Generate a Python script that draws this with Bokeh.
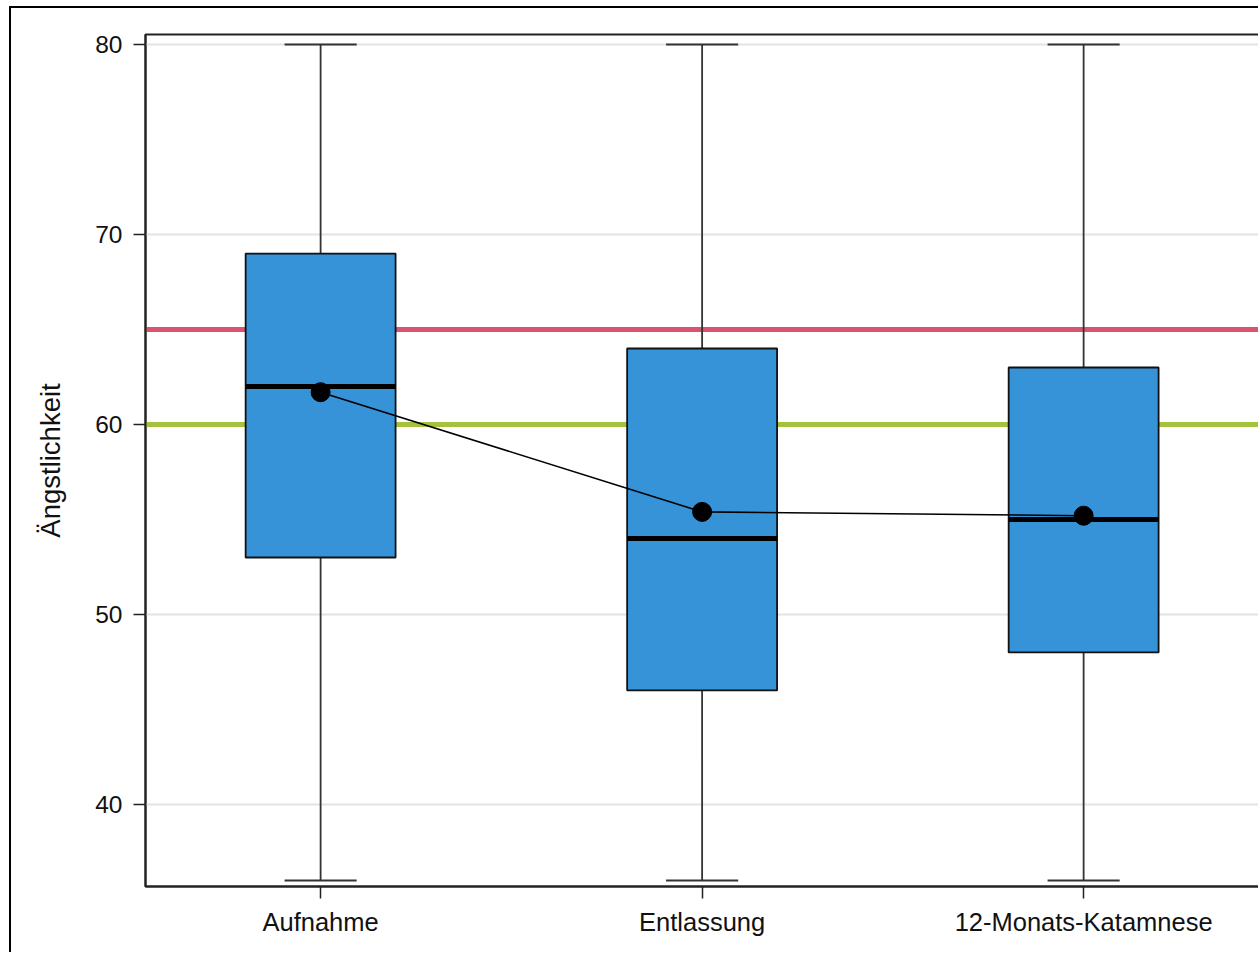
from bokeh.plotting import figure
from bokeh.models import Range1d, FixedTicker, Span, ColumnDataSource
from bokeh.embed import file_html
from bokeh.resources import INLINE

# Zeitpunkte und Kennwerte der Ängstlichkeit
categories = ["Aufnahme", "Entlassung", "12-Monats-Katamnese"]
minimum = [36, 36, 36]
q1 = [53, 46, 48]
median = [62, 54, 55]
q3 = [69, 64, 63]
maximum = [80, 80, 80]
mean = [61.7, 55.4, 55.2]

# Referenzlinien
ref_high = 65
ref_low = 60
y_ticks = [40, 50, 60, 70, 80]

pos = list(range(1, len(categories) + 1))
box_w = 0.393
cap_w = 0.189

src = ColumnDataSource(dict(
    x=pos, lo=minimum, q1=q1, med=median, q3=q3, hi=maximum, mean=mean,
    left=[p - box_w / 2 for p in pos], right=[p + box_w / 2 for p in pos],
    cl=[p - cap_w / 2 for p in pos], cr=[p + cap_w / 2 for p in pos],
))

FONT = "Liberation Sans"

p = figure(width=1249, height=946, output_backend="svg", toolbar_location=None,
           x_range=Range1d(0.541, 3.461), y_range=Range1d(35.68, 80.53),
           min_border_left=134, min_border_top=26, min_border_right=1,
           min_border_bottom=68)

# Rahmen um die gesamte Grafik (oben und links)
p.margin = (6, 0, 0, 9)
p.styles = {"border-top": "2px solid black", "border-left": "2px solid black"}

p.outline_line_color = "#222222"
p.outline_line_width = 2
p.background_fill_color = "white"
p.border_fill_color = "white"

# Achsen
p.xaxis.ticker = FixedTicker(ticks=pos)
p.xaxis.major_label_overrides = {i: c for i, c in zip(pos, categories)}
p.yaxis.ticker = FixedTicker(ticks=y_ticks)
p.yaxis.axis_label = "Ängstlichkeit"
for ax in (p.xaxis[0], p.yaxis[0]):
    ax.axis_line_color = "#222222"
    ax.axis_line_width = 2
    ax.major_tick_line_color = "#222222"
    ax.major_tick_line_width = 1.5
    ax.major_tick_out = 12
    ax.major_tick_in = 0
    ax.minor_tick_line_color = None
    ax.major_label_text_font = FONT
    ax.major_label_text_color = "#111111"
p.xaxis.major_label_text_font_size = "25.5px"
p.yaxis.major_label_text_font_size = "24.5px"
p.xaxis.major_label_standoff = 9
p.yaxis.major_label_standoff = 11
p.yaxis.axis_label_text_font = FONT
p.yaxis.axis_label_text_font_size = "27.5px"
p.yaxis.axis_label_text_font_style = "normal"
p.yaxis.axis_label_text_color = "#111111"
p.yaxis.axis_label_standoff = 26

p.xgrid.grid_line_color = None
p.ygrid.grid_line_color = "#e3e3e3"
p.ygrid.grid_line_width = 2

# Referenzlinien hinter den Boxen
p.add_layout(Span(location=ref_high, dimension="width", line_color="#d9546e",
                  line_width=5, level="underlay"))
p.add_layout(Span(location=ref_low, dimension="width", line_color="#a5c23c",
                  line_width=5, level="underlay"))

# Whisker
p.segment(x0="x", y0="lo", x1="x", y1="q1", source=src, line_color="#333333", line_width=1.8)
p.segment(x0="x", y0="q3", x1="x", y1="hi", source=src, line_color="#333333", line_width=1.8)
p.segment(x0="cl", y0="lo", x1="cr", y1="lo", source=src, line_color="#333333", line_width=2)
p.segment(x0="cl", y0="hi", x1="cr", y1="hi", source=src, line_color="#333333", line_width=2)

# Boxen
p.quad(left="left", right="right", bottom="q1", top="q3", source=src,
       fill_color="#3793d8", line_color="#111111", line_width=1.8)
p.segment(x0="left", y0="med", x1="right", y1="med", source=src,
          line_color="black", line_width=5)

# Mittelwerte
p.line(x="x", y="mean", source=src, line_color="black", line_width=1.6)
p.scatter(x="x", y="mean", source=src, size=19, fill_color="black", line_color="black")

open("out.html", "w").write(file_html(p, INLINE))
